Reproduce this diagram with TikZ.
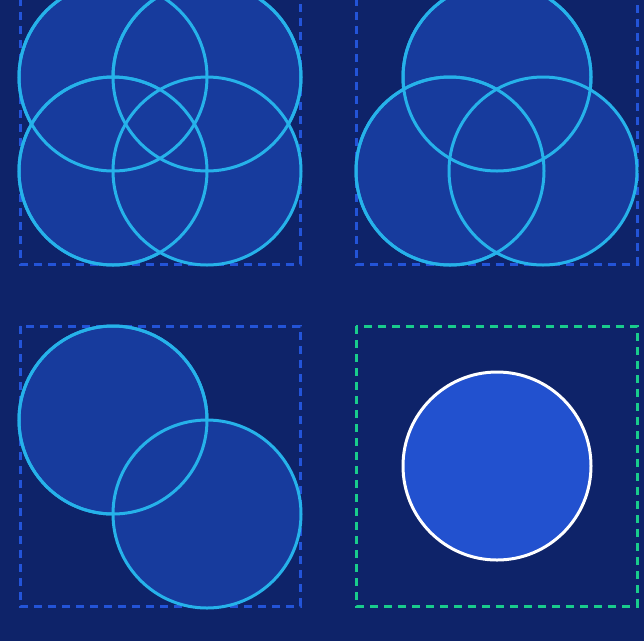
\documentclass[tikz,border=0pt]{standalone}
\usetikzlibrary{positioning}
\definecolor{bgnavy}{HTML}{0E2369}
\definecolor{setfill}{HTML}{173B9D}
\definecolor{setline}{HTML}{26B2EA}
\definecolor{boxblue}{HTML}{2354D8}
\definecolor{boxgreen}{HTML}{19CC8C}
\definecolor{onefill}{HTML}{2251CF}

\begin{document}
\begin{tikzpicture}[x=1pt,y=-1pt]
\tikzstyle{set}=[circle,draw=setline,fill=setfill,line width=3pt,minimum size=188pt,inner sep=0pt]
\tikzstyle{one}=[circle,draw=white,fill=onefill,line width=3pt,minimum size=188pt,inner sep=0pt]
\tikzstyle{frame}=[draw=boxblue,line width=3pt,dash pattern=on 8pt off 6pt]
\fill[bgnavy] (0,0) rectangle (644,641);
\useasboundingbox (0,0) rectangle (644,641);
\clip (0,0) rectangle (644,641);
% frames
\draw[frame] (20,-16) rectangle (300,264);
\draw[frame] (356,-16) rectangle (637,264);
\draw[frame] (20,326) rectangle (300,606);
\draw[frame,draw=boxgreen] (356,326) rectangle (637,606);
% four sets
\node[set] (a1) at (113,77) {};
\node[set] (a2) at (207,77) {};
\node[set] (a3) at (113,171) {};
\node[set] (a4) at (207,171) {};
\draw[setline,line width=3pt] (113,77) circle (94) (207,77) circle (94) (113,171) circle (94);
% three sets
\node[set] (b1) at (497,77) {};
\node[set] (b2) at (450,171) {};
\node[set] (b3) at (543,171) {};
\draw[setline,line width=3pt] (497,77) circle (94) (450,171) circle (94);
% two sets
\node[set] (c1) at (113,420) {};
\node[set] (c2) at (207,514) {};
\draw[setline,line width=3pt] (113,420) circle (94);
% one set
\node[one] (d1) at (497,466) {};
\end{tikzpicture}
\end{document}
